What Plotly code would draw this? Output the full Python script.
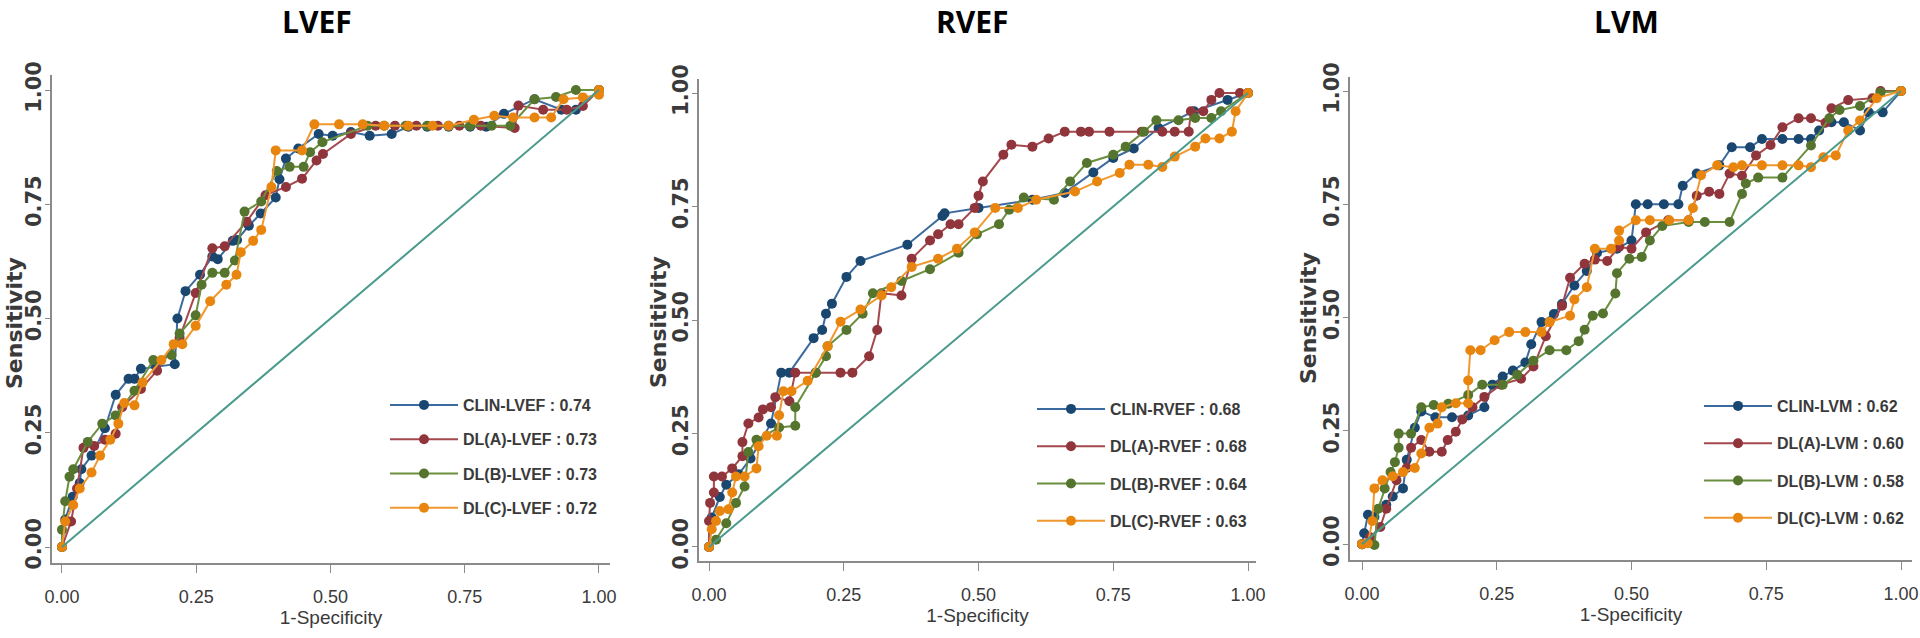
import plotly.graph_objects as go

# ---------------- data ----------------
panels = ["LVEF", "RVEF", "LVM"]
series_names = ["CLIN", "DL(A)", "DL(B)", "DL(C)"]
auc_lvef = [0.74, 0.73, 0.73, 0.72]
auc_rvef = [0.68, 0.68, 0.64, 0.63]
auc_lvm = [0.62, 0.60, 0.58, 0.62]
tick_vals = [0, 0.25, 0.5, 0.75, 1]
tick_text = ["0.00", "0.25", "0.50", "0.75", "1.00"]

# LVEF
lvef_clin_x = [0, 0.006, 0.02, 0.033, 0.036, 0.055, 0.08, 0.10, 0.124, 0.135, 0.147, 0.175, 0.21, 0.215, 0.23, 0.257, 0.28, 0.29, 0.318, 0.326, 0.348, 0.37, 0.398, 0.405, 0.417, 0.44, 0.478, 0.504, 0.538, 0.573, 0.614, 0.645, 0.68, 0.72, 0.76, 0.79, 0.823, 0.88, 0.93, 0.957, 1.0]
lvef_clin_y = [0, 0.06, 0.11, 0.14, 0.17, 0.2, 0.26, 0.333, 0.368, 0.368, 0.39, 0.395, 0.40, 0.50, 0.56, 0.596, 0.636, 0.63, 0.67, 0.672, 0.703, 0.73, 0.765, 0.805, 0.85, 0.872, 0.904, 0.90, 0.908, 0.90, 0.904, 0.92, 0.92, 0.92, 0.92, 0.92, 0.948, 0.98, 0.957, 0.957, 1.0]
lvef_dla_x = [0, 0.017, 0.028, 0.04, 0.06, 0.08, 0.10, 0.112, 0.147, 0.177, 0.219, 0.249, 0.28, 0.303, 0.344, 0.379, 0.417, 0.447, 0.474, 0.486, 0.538, 0.584, 0.62, 0.66, 0.70, 0.74, 0.78, 0.843, 0.85, 0.896, 0.94, 0.97, 1.0]
lvef_dla_y = [0, 0.056, 0.128, 0.217, 0.221, 0.235, 0.248, 0.306, 0.346, 0.386, 0.458, 0.556, 0.654, 0.658, 0.712, 0.77, 0.788, 0.806, 0.846, 0.86, 0.904, 0.922, 0.922, 0.922, 0.922, 0.922, 0.922, 0.917, 0.966, 0.957, 0.957, 0.965, 1.0]
lvef_dlb_x = [0, 0.0, 0.006, 0.014, 0.021, 0.048, 0.075, 0.10, 0.135, 0.17, 0.204, 0.219, 0.249, 0.26, 0.28, 0.303, 0.322, 0.34, 0.371, 0.40, 0.424, 0.45, 0.462, 0.485, 0.569, 0.60, 0.64, 0.68, 0.72, 0.76, 0.80, 0.835, 0.88, 0.92, 0.957, 1.0]
lvef_dlb_y = [0, 0.038, 0.10, 0.154, 0.17, 0.23, 0.27, 0.288, 0.342, 0.409, 0.42, 0.467, 0.507, 0.574, 0.60, 0.60, 0.627, 0.734, 0.756, 0.823, 0.832, 0.832, 0.864, 0.886, 0.922, 0.922, 0.922, 0.922, 0.922, 0.922, 0.922, 0.922, 0.98, 0.985, 1.0, 1.0]
lvef_dlc_x = [0, 0.006, 0.021, 0.033, 0.055, 0.071, 0.09, 0.105, 0.116, 0.135, 0.15, 0.185, 0.208, 0.224, 0.249, 0.276, 0.306, 0.325, 0.333, 0.356, 0.371, 0.39, 0.398, 0.447, 0.47, 0.516, 0.56, 0.60, 0.645, 0.69, 0.72, 0.767, 0.805, 0.84, 0.88, 0.911, 0.934, 0.97, 1.0, 1.0]
lvef_dlc_y = [0, 0.056, 0.092, 0.128, 0.163, 0.2, 0.235, 0.27, 0.315, 0.31, 0.36, 0.409, 0.444, 0.444, 0.484, 0.538, 0.574, 0.596, 0.645, 0.67, 0.694, 0.788, 0.868, 0.868, 0.925, 0.925, 0.925, 0.922, 0.922, 0.922, 0.922, 0.935, 0.944, 0.94, 0.94, 0.94, 0.98, 0.984, 0.99, 1.0]

# RVEF
rvef_clin_x = [0, 0.005, 0.02, 0.032, 0.055, 0.077, 0.115, 0.134, 0.149, 0.194, 0.21, 0.217, 0.228, 0.255, 0.281, 0.368, 0.433, 0.437, 0.50, 0.6, 0.66, 0.713, 0.75, 0.788, 0.834, 0.90, 0.962, 1.0]
rvef_clin_y = [0, 0.065, 0.11, 0.137, 0.16, 0.195, 0.272, 0.384, 0.384, 0.46, 0.478, 0.514, 0.536, 0.595, 0.63, 0.666, 0.729, 0.735, 0.747, 0.765, 0.78, 0.825, 0.857, 0.878, 0.923, 0.96, 0.985, 1.0]
rvef_dla_x = [0, 0.0, 0.002, 0.009, 0.009, 0.024, 0.043, 0.062, 0.062, 0.073, 0.092, 0.10, 0.115, 0.123, 0.149, 0.16, 0.198, 0.244, 0.266, 0.297, 0.312, 0.32, 0.357, 0.376, 0.41, 0.425, 0.448, 0.463, 0.493, 0.50, 0.508, 0.546, 0.561, 0.60, 0.63, 0.66, 0.69, 0.705, 0.743, 0.803, 0.841, 0.864, 0.89, 0.894, 0.917, 0.932, 0.947, 0.985, 1.0]
rvef_dla_y = [0, 0.057, 0.097, 0.12, 0.155, 0.155, 0.173, 0.2, 0.231, 0.272, 0.285, 0.303, 0.308, 0.33, 0.321, 0.384, 0.384, 0.384, 0.384, 0.42, 0.478, 0.559, 0.554, 0.635, 0.675, 0.689, 0.711, 0.711, 0.747, 0.774, 0.805, 0.864, 0.886, 0.882, 0.9, 0.915, 0.915, 0.915, 0.915, 0.915, 0.915, 0.915, 0.915, 0.96, 0.96, 0.985, 1.0, 1.0, 1.0]
rvef_dlb_x = [0, 0.013, 0.032, 0.05, 0.066, 0.073, 0.088, 0.13, 0.16, 0.16, 0.198, 0.217, 0.22, 0.255, 0.285, 0.304, 0.357, 0.41, 0.463, 0.497, 0.538, 0.557, 0.584, 0.64, 0.67, 0.701, 0.75, 0.773, 0.807, 0.83, 0.871, 0.902, 0.932, 0.95, 1.0]
rvef_dlb_y = [0, 0.016, 0.052, 0.097, 0.133, 0.209, 0.236, 0.263, 0.267, 0.308, 0.384, 0.42, 0.442, 0.478, 0.514, 0.559, 0.586, 0.612, 0.648, 0.689, 0.711, 0.743, 0.77, 0.765, 0.805, 0.846, 0.864, 0.882, 0.915, 0.94, 0.94, 0.945, 0.945, 0.96, 1.0]
rvef_dlc_x = [0, 0.005, 0.013, 0.02, 0.036, 0.043, 0.05, 0.066, 0.088, 0.092, 0.107, 0.126, 0.13, 0.138, 0.153, 0.183, 0.22, 0.244, 0.281, 0.32, 0.338, 0.376, 0.425, 0.46, 0.493, 0.531, 0.573, 0.607, 0.679, 0.72, 0.762, 0.78, 0.815, 0.841, 0.864, 0.902, 0.921, 0.947, 0.97, 0.977, 1.0]
rvef_dlc_y = [0, 0.039, 0.057, 0.079, 0.083, 0.12, 0.155, 0.155, 0.173, 0.222, 0.245, 0.245, 0.29, 0.343, 0.343, 0.366, 0.442, 0.496, 0.523, 0.554, 0.572, 0.617, 0.635, 0.657, 0.693, 0.747, 0.747, 0.765, 0.783, 0.805, 0.824, 0.842, 0.842, 0.837, 0.86, 0.882, 0.9, 0.9, 0.915, 0.96, 1.0]

# LVM
lvm_clin_x = [0, 0.004, 0.011, 0.023, 0.045, 0.057, 0.076, 0.083, 0.098, 0.11, 0.136, 0.167, 0.197, 0.227, 0.242, 0.261, 0.28, 0.303, 0.314, 0.333, 0.356, 0.371, 0.394, 0.417, 0.436, 0.473, 0.5, 0.508, 0.53, 0.56, 0.587, 0.595, 0.621, 0.663, 0.686, 0.72, 0.742, 0.78, 0.81, 0.833, 0.848, 0.871, 0.894, 0.924, 0.94, 0.966, 1.0]
lvm_clin_y = [0, 0.024, 0.065, 0.06, 0.087, 0.105, 0.123, 0.186, 0.257, 0.293, 0.28, 0.28, 0.284, 0.302, 0.352, 0.37, 0.383, 0.401, 0.441, 0.49, 0.508, 0.53, 0.571, 0.603, 0.643, 0.652, 0.67, 0.75, 0.75, 0.75, 0.75, 0.791, 0.818, 0.836, 0.876, 0.876, 0.894, 0.894, 0.894, 0.894, 0.913, 0.931, 0.931, 0.913, 0.953, 0.953, 1.0]
lvm_dla_x = [0, 0.015, 0.034, 0.045, 0.064, 0.083, 0.091, 0.11, 0.125, 0.148, 0.159, 0.174, 0.186, 0.205, 0.227, 0.258, 0.295, 0.318, 0.341, 0.371, 0.386, 0.413, 0.432, 0.455, 0.477, 0.5, 0.527, 0.568, 0.606, 0.621, 0.644, 0.663, 0.682, 0.705, 0.731, 0.758, 0.78, 0.81, 0.833, 0.86, 0.871, 0.902, 0.947, 0.962, 1.0]
lvm_dla_y = [0, 0.015, 0.038, 0.078, 0.141, 0.168, 0.213, 0.23, 0.204, 0.204, 0.23, 0.248, 0.275, 0.302, 0.325, 0.352, 0.365, 0.392, 0.459, 0.526, 0.588, 0.619, 0.628, 0.625, 0.656, 0.652, 0.688, 0.715, 0.715, 0.769, 0.778, 0.773, 0.818, 0.813, 0.858, 0.881, 0.92, 0.94, 0.94, 0.93, 0.962, 0.98, 0.984, 1.0, 1.0]
lvm_dlb_x = [0, 0.023, 0.03, 0.042, 0.053, 0.061, 0.068, 0.068, 0.091, 0.11, 0.133, 0.16, 0.197, 0.223, 0.261, 0.288, 0.318, 0.348, 0.379, 0.402, 0.413, 0.428, 0.447, 0.47, 0.473, 0.496, 0.519, 0.534, 0.557, 0.606, 0.636, 0.682, 0.705, 0.712, 0.735, 0.78, 0.833, 0.867, 0.886, 0.924, 0.962, 1.0]
lvm_dlb_y = [0, -0.002, 0.078, 0.123, 0.159, 0.181, 0.213, 0.244, 0.244, 0.302, 0.307, 0.31, 0.329, 0.352, 0.352, 0.374, 0.405, 0.428, 0.428, 0.448, 0.473, 0.504, 0.509, 0.553, 0.598, 0.63, 0.634, 0.67, 0.702, 0.711, 0.711, 0.711, 0.773, 0.796, 0.809, 0.809, 0.88, 0.94, 0.958, 0.967, 0.997, 1.0]
lvm_dlc_x = [0, 0.011, 0.019, 0.023, 0.038, 0.057, 0.076, 0.098, 0.11, 0.125, 0.14, 0.148, 0.174, 0.197, 0.197, 0.201, 0.22, 0.246, 0.273, 0.303, 0.333, 0.348, 0.386, 0.394, 0.417, 0.432, 0.462, 0.477, 0.477, 0.508, 0.534, 0.57, 0.606, 0.614, 0.629, 0.659, 0.689, 0.705, 0.742, 0.78, 0.81, 0.833, 0.856, 0.879, 0.902, 0.924, 0.955, 1.0]
lvm_dlc_y = [0, 0.002, 0.051, 0.123, 0.141, 0.15, 0.159, 0.168, 0.2, 0.257, 0.266, 0.302, 0.311, 0.311, 0.361, 0.428, 0.428, 0.45, 0.468, 0.468, 0.468, 0.49, 0.504, 0.54, 0.567, 0.652, 0.652, 0.67, 0.692, 0.715, 0.715, 0.715, 0.715, 0.742, 0.814, 0.836, 0.832, 0.836, 0.836, 0.836, 0.836, 0.832, 0.854, 0.858, 0.913, 0.935, 0.984, 1.0]

ref_x = [0, 1]
ref_y = [0, 1]

# ---------------- styling ----------------
marker_colors = ["#1A476F", "#90353B", "#55752F", "#E8850E"]
line_colors = ["#3D6A9E", "#A4484E", "#6A8F3E", "#F0982E"]
diag_color = "#4A9A8C"
axis_color = "#8a8a8a"
text_gray = "#3a3a3a"
narrow = "Liberation Sans Narrow, Arial Narrow, Liberation Sans, Arial"
wide = "DejaVu Sans, Verdana"

panel_data = [
    ([lvef_clin_x, lvef_dla_x, lvef_dlb_x, lvef_dlc_x],
     [lvef_clin_y, lvef_dla_y, lvef_dlb_y, lvef_dlc_y], auc_lvef),
    ([rvef_clin_x, rvef_dla_x, rvef_dlb_x, rvef_dlc_x],
     [rvef_clin_y, rvef_dla_y, rvef_dlb_y, rvef_dlc_y], auc_rvef),
    ([lvm_clin_x, lvm_dla_x, lvm_dlb_x, lvm_dlc_x],
     [lvm_clin_y, lvm_dla_y, lvm_dlb_y, lvm_dlc_y], auc_lvm),
]

W, H = 1920, 638


def fx(px):
    return px / W


def fy(py):
    return 1 - py / H


# plot-area screen boxes (left, right, top, bottom) and axis ranges
boxes = [(52, 610, 75, 563), (699, 1256, 79, 561), (1350, 1912, 77, 560)]
xranges = [[-0.0186, 1.0205], [-0.0186, 1.0148], [-0.0223, 1.0204]]
yranges = [[-0.035, 1.033], [-0.031, 1.031], [-0.035, 1.031]]
title_pos = [(317, 0), (972, 0), (1626, 0)]
ytitle_pos = [(14, 323), (658, 322), (1308, 318)]
legend_pos = [(385, 388), (1032, 392), (1699, 389)]
legend_gap = [10.5, 13.5, 13.5]

fig = go.Figure()
layout = dict(
    width=W, height=H, margin=dict(l=0, r=0, t=0, b=0, autoexpand=False),
    paper_bgcolor="white", plot_bgcolor="white",
    annotations=[], showlegend=True,
)

for p, (xs, ys, aucs) in enumerate(panel_data):
    sfx = "" if p == 0 else str(p + 1)
    lg = "legend" if p == 0 else "legend%d" % (p + 1)
    for s in range(4):
        fig.add_trace(go.Scatter(
            x=xs[s], y=ys[s], mode="lines+markers",
            name="%s-%s : %.2f" % (series_names[s], panels[p], aucs[s]),
            line=dict(color=line_colors[s], width=2),
            marker=dict(color=marker_colors[s], size=10),
            xaxis="x" + sfx, yaxis="y" + sfx, legend=lg,
            legendgroup="g%d_%d" % (p, s),
        ))
    fig.add_trace(go.Scatter(
        x=ref_x, y=ref_y, mode="lines", line=dict(color=diag_color, width=2),
        xaxis="x" + sfx, yaxis="y" + sfx, showlegend=False, hoverinfo="skip",
    ))
    l, r, t, b = boxes[p]
    layout["xaxis" + sfx] = dict(
        domain=[fx(l), fx(r)], anchor="y" + sfx, range=xranges[p], automargin=False,
        showgrid=False, zeroline=False, showline=True, linecolor=axis_color,
        linewidth=2, ticks="outside", ticklen=8, tickwidth=1, tickcolor=axis_color,
        tickvals=tick_vals, ticktext=tick_text, ticklabelstandoff=8,
        ticklabeloverflow="allow",
        tickfont=dict(family=narrow, size=18, color=text_gray),
        title=dict(text="1-Specificity", standoff=2,
                   font=dict(family=narrow, size=19, color=text_gray)),
    )
    layout["yaxis" + sfx] = dict(
        domain=[fy(b), fy(t)], anchor="x" + sfx, range=yranges[p], automargin=False,
        showgrid=False, zeroline=False, showline=True, linecolor=axis_color,
        linewidth=2, ticks="outside", ticklen=5, tickwidth=1, tickcolor=axis_color,
        tickvals=tick_vals, ticktext=tick_text, tickangle=-90, ticklabelstandoff=-4,
        ticklabeloverflow="allow",
        tickfont=dict(family=wide, size=21, color=text_gray, weight="bold"),
    )
    lx, ly = legend_pos[p]
    layout[lg] = dict(
        x=fx(lx), y=fy(ly), xanchor="left", yanchor="top",
        bgcolor="rgba(0,0,0,0)", borderwidth=0, itemwidth=68,
        tracegroupgap=legend_gap[p],
        font=dict(family=narrow, size=16, color=text_gray, weight="bold"),
    )
    tx, ty = title_pos[p]
    layout["annotations"].append(dict(
        text="<b>%s</b>" % panels[p], x=fx(tx), y=fy(ty), xref="paper", yref="paper",
        xanchor="center", yanchor="top", showarrow=False, borderpad=0,
        font=dict(family="Open Sans", size=30, color="black"),
    ))
    sx, sy = ytitle_pos[p]
    layout["annotations"].append(dict(
        text="Sensitivity", x=fx(sx), y=fy(sy), xref="paper", yref="paper",
        xanchor="center", yanchor="middle", showarrow=False, textangle=-90,
        borderpad=0,
        font=dict(family=wide, size=22, color=text_gray, weight="bold"),
    ))

fig.update_layout(**layout)
fig.write_html(
    "out.html",
    config={"displayModeBar": False},
    post_script="document.body.style.margin='0px';document.body.style.overflow='hidden';",
)
